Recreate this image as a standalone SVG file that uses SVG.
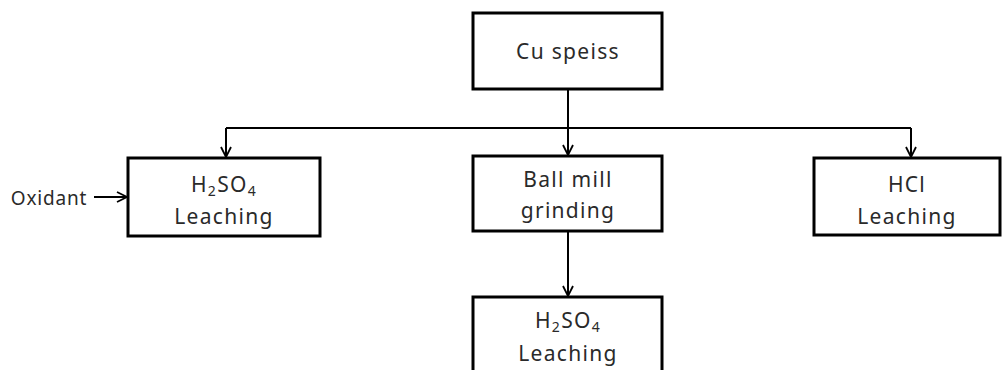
<svg xmlns="http://www.w3.org/2000/svg" width="1002" height="370" viewBox="0 0 1002 370">
<defs>
<style>
.box{fill:#fff;stroke:#000;stroke-width:3}
.ln{fill:none;stroke:#000;stroke-width:2}
.t{font-family:"Noto Sans","Open Sans",sans-serif;font-size:21px;letter-spacing:1.3px;fill:#2a2a2a;text-anchor:middle}
.s{font-size:14px}
</style>
<marker id="ah" viewBox="0 0 12 12" refX="11" refY="6" markerWidth="12" markerHeight="12" markerUnits="userSpaceOnUse" orient="auto">
<path d="M1,1 L11,6 L1,11" fill="none" stroke="#000" stroke-width="1.8"/>
</marker>
</defs>
<g id="connectors">
<path class="ln" d="M568,90 V155" marker-end="url(#ah)"/>
<path class="ln" d="M226,128 H911"/>
<path class="ln" d="M226,128 V157" marker-end="url(#ah)"/>
<path class="ln" d="M911,128 V157" marker-end="url(#ah)"/>
<path class="ln" d="M568,231 V296" marker-end="url(#ah)"/>
<path class="ln" d="M94,197 H127" marker-end="url(#ah)"/>
</g>
<g id="n-cu"><rect class="box" x="473" y="13" width="189" height="76"/><text class="t" x="568" y="59">Cu speiss</text></g>
<g id="n-h2so4-left"><rect class="box" x="128" y="158" width="192" height="78"/><text class="t" x="224" y="192">H<tspan class="s" dy="4">2</tspan><tspan dy="-4">SO</tspan><tspan class="s" dy="4">4</tspan></text><text class="t" x="224" y="224">Leaching</text></g>
<g id="n-ball"><rect class="box" x="473" y="156" width="189" height="75"/><text class="t" x="568" y="187">Ball mill</text><text class="t" x="568" y="218">grinding</text></g>
<g id="n-hcl"><rect class="box" x="814" y="158" width="186" height="77"/><text class="t" x="907" y="192">HCl</text><text class="t" x="907" y="224">Leaching</text></g>
<g id="n-h2so4-bottom"><rect class="box" x="473" y="297" width="189" height="80"/><text class="t" x="568" y="328">H<tspan class="s" dy="4">2</tspan><tspan dy="-4">SO</tspan><tspan class="s" dy="4">4</tspan></text><text class="t" x="568" y="361">Leaching</text></g>
<g id="n-oxidant"><text class="t" x="49" y="205" style="font-size:19px;letter-spacing:0.8px">Oxidant</text></g>
</svg>
